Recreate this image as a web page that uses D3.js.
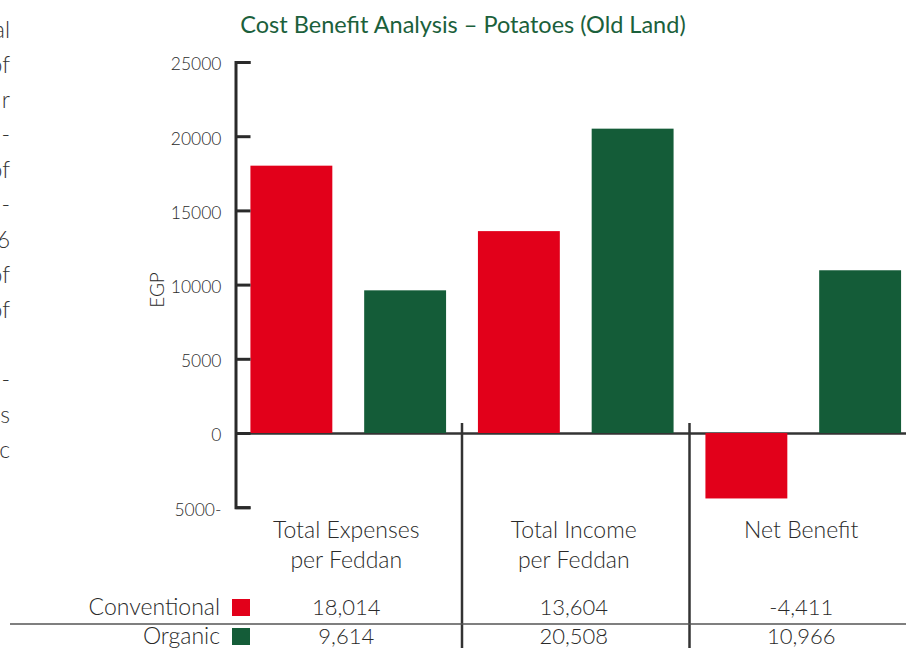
<!DOCTYPE html>
<html>
<head>
<meta charset="utf-8">
<script src="https://cdn.jsdelivr.net/npm/d3@7"></script>
<style>
  body { margin: 0; background: #fff; }
  svg { display: block; font-family: Lato, "Open Sans", sans-serif; }
</style>
</head>
<body>
<svg width="906" height="648"></svg>
<script>
// chart data
const categories = ['Total Expenses|per Feddan', 'Total Income|per Feddan', 'Net Benefit'];
const series = ['Conventional', 'Organic'];
const conventional = [18014, 13604, -4411];
const organic = [9614, 20508, 10966];
const yTicks = [25000, 20000, 15000, 10000, 5000, 0, -5000];
// clipped page text on the left edge
const sideText = ['al', 'of', 'r', '-', 'of', '-', '6', 'of', 'of', '', '-', 's', 'c'];

const colors = { Conventional: '#e2001a', Organic: '#145c38' };
const values = { Conventional: conventional, Organic: organic };
const ink = '#2a2a2a';

const svg = d3.select('svg');

const y = d3.scaleLinear().domain([-5000, 25000]).range([507.2, 62]);
const x0 = d3.scaleBand().domain(categories).range([234.5, 917]).padding(0);
const x1 = d3.scaleBand().domain(series).range([0, x0.bandwidth()])
  .paddingInner(0.28).paddingOuter(0.14);

// title
svg.append('text')
  .attr('x', 463).attr('y', 33)
  .attr('text-anchor', 'middle')
  .attr('fill', '#1b603b')
  .style('font-size', '23.5px')
  .text('Cost Benefit Analysis – Potatoes (Old Land)');

// page text fragments
svg.append('g').selectAll('text')
  .data(sideText)
  .join('text')
  .attr('x', 10)
  .attr('y', (d, i) => 38 + i * 35)
  .attr('text-anchor', 'end')
  .attr('fill', '#333')
  .style('font-size', '23px')
  .style('font-weight', 300)
  .text(d => d);

// zero line
svg.append('line')
  .attr('x1', 236).attr('x2', 906)
  .attr('y1', y(0) + 0.5).attr('y2', y(0) + 0.5)
  .attr('stroke', '#333').attr('stroke-width', 2.5);

// bars
const groups = svg.append('g').selectAll('g')
  .data(categories)
  .join('g')
  .attr('transform', d => `translate(${x0(d)},0)`);

groups.selectAll('rect')
  .data((d, i) => series.map(s => ({ s, v: values[s][i] })))
  .join('rect')
  .attr('x', d => x1(d.s))
  .attr('width', x1.bandwidth())
  .attr('y', d => y(Math.max(0, d.v)))
  .attr('height', d => Math.abs(y(d.v) - y(0)))
  .attr('fill', d => colors[d.s]);

// y axis: ticks point inward
const axis = svg.append('g')
  .attr('transform', 'translate(235.5,0)')
  .call(d3.axisLeft(y).tickValues(yTicks)
    .tickSizeInner(-15).tickSizeOuter(-15).tickPadding(14)
    .tickFormat(d => d < 0 ? Math.abs(d) + '-' : d));
axis.select('.domain').attr('stroke', ink).attr('stroke-width', 3);
axis.selectAll('.tick line').attr('stroke', ink).attr('stroke-width', 3);
axis.selectAll('.tick text')
  .attr('fill', ink)
  .attr('dy', '0.45em')
  .style('font-family', 'Lato, sans-serif')
  .style('font-size', '17.5px')
  .style('font-weight', 300);

// y axis title
svg.append('text')
  .attr('transform', 'translate(164,290) rotate(-90)')
  .attr('text-anchor', 'middle')
  .attr('fill', ink)
  .style('font-size', '19px')
  .style('font-weight', 300)
  .text('EGP');

// group separators
svg.append('g').selectAll('line')
  .data(categories.slice(1))
  .join('line')
  .attr('x1', d => x0(d)).attr('x2', d => x0(d))
  .attr('y1', 423).attr('y2', 648)
  .attr('stroke', '#333').attr('stroke-width', 2.5);

// category labels
svg.append('g').selectAll('text')
  .data(categories)
  .join('text')
  .attr('x', d => x0(d) + x0.bandwidth() / 2 - 2)
  .attr('y', 538)
  .attr('text-anchor', 'middle')
  .attr('fill', ink)
  .style('font-size', '23px')
  .style('font-weight', 300)
  .selectAll('tspan')
  .data(d => d.split('|'))
  .join('tspan')
  .attr('x', function () { return this.parentNode.getAttribute('x'); })
  .attr('dy', (d, i) => i ? 30 : 0)
  .text(d => d);

// table rule
svg.append('line')
  .attr('x1', 10).attr('x2', 906)
  .attr('y1', 624).attr('y2', 624)
  .attr('stroke', '#555').attr('stroke-width', 1.5);

// table rows
const fmt = d3.format(',');
const rowY = { Conventional: 615, Organic: 644 };
const rows = svg.append('g').selectAll('g')
  .data(series)
  .join('g');

rows.append('text')
  .attr('x', 220).attr('y', s => rowY[s])
  .attr('text-anchor', 'end')
  .attr('fill', ink)
  .style('font-size', '23px')
  .style('font-weight', 300)
  .text(s => s);

rows.append('rect')
  .attr('x', 232).attr('y', s => rowY[s] - 16)
  .attr('width', 18).attr('height', 17)
  .attr('fill', s => colors[s]);

rows.selectAll('text.val')
  .data(s => values[s].map((v, i) => ({ s, v, c: categories[i] })))
  .join('text')
  .attr('class', 'val')
  .attr('x', d => x0(d.c) + x0.bandwidth() / 2 - 2)
  .attr('y', d => rowY[d.s])
  .attr('text-anchor', 'middle')
  .attr('fill', ink)
  .style('font-size', '22px')
  .style('font-weight', 300)
  .text(d => fmt(d.v).replace('−', '-'));
</script>
</body>
</html>
